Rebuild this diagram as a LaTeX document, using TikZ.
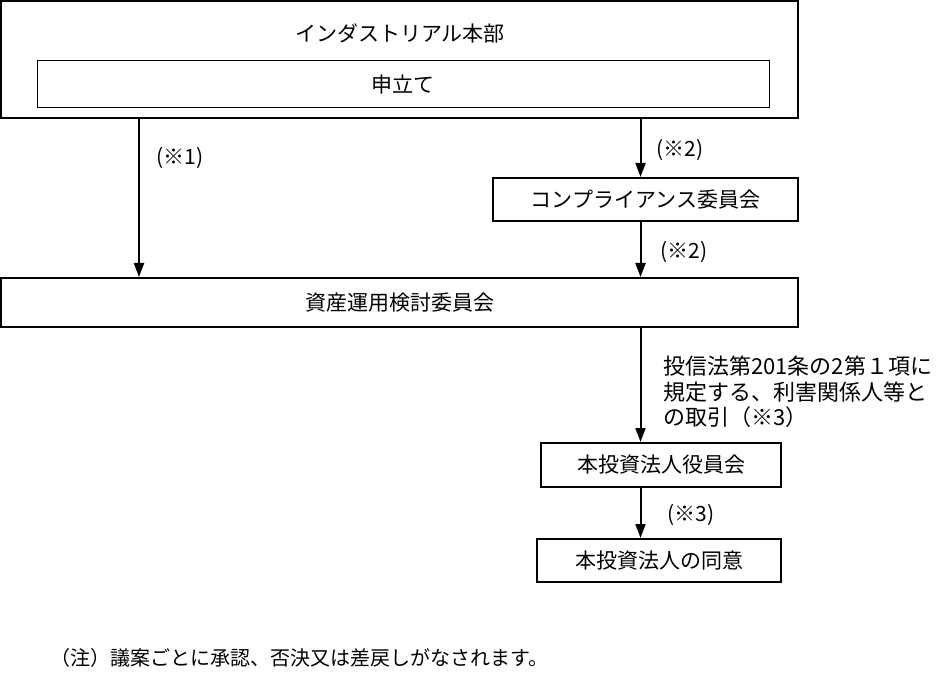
\documentclass[tikz,border=0pt]{standalone}
\usepackage{fontspec}
\setmainfont{Noto Sans CJK JP}
\usetikzlibrary{arrows.meta}
\begin{document}
\begin{tikzpicture}[x=1pt,y=-1pt,
  thickbox/.style={draw, line width=2pt, inner sep=0pt},
  thinbox/.style={draw, line width=1pt, inner sep=0pt},
  txt/.style={inner sep=0pt, font=\fontsize{21pt}{25pt}\selectfont},
  longtxt/.style={inner sep=0pt, font=\fontsize{22pt}{25.5pt}\selectfont},
  notetxt/.style={inner sep=0pt, font=\fontsize{20pt}{24pt}\selectfont},
  arr/.style={line width=2pt, -{Triangle[length=14pt,width=10pt]}}
]
\useasboundingbox (0,0) rectangle (944,692);
% boxes
\node[thickbox, minimum width=797pt, minimum height=117pt] (hq) at (399.5,59.5) {};
\node[txt] (hqt) at (400,33) {インダストリアル本部};
\node[thinbox, minimum width=732pt, minimum height=47pt, txt] (req) at (403,84.5) {申立て};
\node[thickbox, minimum width=305pt, minimum height=43pt, txt] (comp) at (645.5,199.5) {コンプライアンス委員会};
\node[thickbox, minimum width=797pt, minimum height=49pt, txt] (asset) at (399.5,302.5) {資産運用検討委員会};
\node[thickbox, minimum width=240pt, minimum height=44pt, txt] (board) at (661,465) {本投資法人役員会};
\node[thickbox, minimum width=244pt, minimum height=43pt, txt] (consent) at (659,560.5) {本投資法人の同意};
% guide coordinates
\coordinate (cA) at (139,0);
\coordinate (cB) at (640.5,0);
% arrows
\draw[arr] (hq.south -| cA) -- (asset.north -| cA);
\draw[arr] (hq.south -| cB) -- (comp.north -| cB);
\draw[arr] (comp.south -| cB) -- (asset.north -| cB);
\draw[arr] (asset.south -| cB) -- (board.north -| cB);
\draw[arr] (board.south -| cB) -- (consent.north -| cB);
% labels
\node[txt] (l1) at (180,158) {(※1)};
\node[txt] (l2) at (680,150) {(※2)};
\node[txt] (l3) at (684,252) {(※2)};
\node[longtxt, anchor=north west, align=left] (l4) at (663,356) {投信法第201条の2第１項に\\規定する、利害関係人等と\\の取引（※3）};
\node[txt] (l5) at (691,515) {(※3)};
\node[notetxt, anchor=west] (note) at (50,658) {（注）議案ごとに承認、否決又は差戻しがなされます。};
\end{tikzpicture}
\end{document}
